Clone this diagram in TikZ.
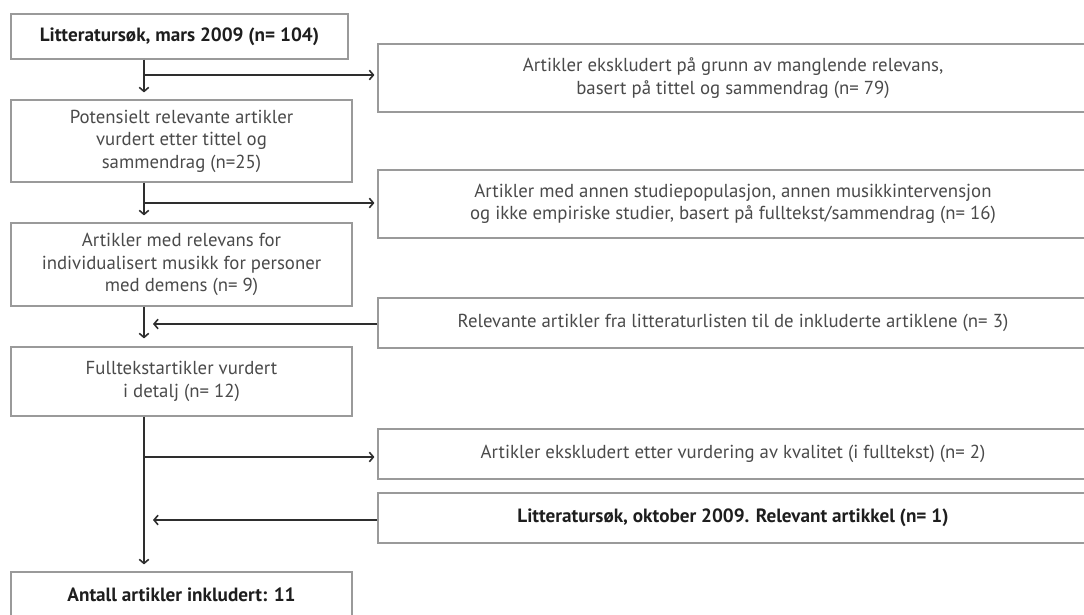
\documentclass[tikz,border=0pt]{standalone}
\usepackage{fontspec}
\setmainfont{PT Sans}
\usetikzlibrary{arrows.meta}
\definecolor{boxline}{HTML}{9A9A9A}
\definecolor{txt}{HTML}{4A4A4A}
\definecolor{txtb}{HTML}{1E1E1E}
\definecolor{arr}{HTML}{2E2E2E}
\tikzset{
  flowbox/.style={draw=boxline, line width=1.2pt, rectangle, align=center, inner sep=0pt,
    text=txt, font=\fontsize{18.8}{22.5}\selectfont},
  boldbox/.style={flowbox, text=txtb, font=\fontsize{19.2}{22.5}\selectfont\bfseries},
  flowarr/.style={draw=arr, line width=1.1pt, -{Straight Barb[length=4pt,width=9.5pt,line width=1.6pt]}},
  flowline/.style={draw=arr, line width=1.1pt}
}
\begin{document}
\begin{tikzpicture}[x=1pt,y=-1pt]
\useasboundingbox (0,0) rectangle (1084,615);
% left column
\node[boldbox, minimum width=337pt, minimum height=45pt] (b1) at (179.5,36.5) {Litteratursøk, mars 2009 (n= 104)};
\node[flowbox, minimum width=341pt, minimum height=82pt] (b2) at (181.5,141) {Potensielt relevante artikler\\vurdert etter tittel og\\sammendrag (n=25)};
\node[flowbox, minimum width=341pt, minimum height=83pt] (b3) at (181.5,264.5) {Artikler med relevans for\\individualisert musikk for personer\\med demens (n= 9)};
\node[flowbox, minimum width=341pt, minimum height=69pt] (b4) at (181.5,381.5) {Fulltekstartikler vurdert\\i detalj (n= 12)};
\node[boldbox, minimum width=341pt, minimum height=46pt] (b5) at (181.5,595) {Antall artikler inkludert: 11};
% right column
\node[flowbox, minimum width=710pt, minimum height=68pt] (r1) at (733,78) {Artikler ekskludert på grunn av manglende relevans,\\basert på tittel og sammendrag (n= 79)};
\node[flowbox, minimum width=710pt, minimum height=68pt] (r2) at (733,204) {Artikler med annen studiepopulasjon, annen musikkintervensjon\\og ikke empiriske studier, basert på fulltekst/sammendrag (n= 16)};
\node[flowbox, minimum width=710pt, minimum height=50pt] (r3) at (733,323) {Relevante artikler fra litteraturlisten til de inkluderte artiklene (n= 3)};
\node[flowbox, minimum width=710pt, minimum height=50pt] (r4) at (733,454) {Artikler ekskludert etter vurdering av kvalitet (i fulltekst) (n= 2)};
\node[boldbox, minimum width=710pt, minimum height=50pt] (r5) at (733,518) {Litteratursøk, oktober 2009. Relevant artikkel (n= 1)};
% trunk coordinate
\coordinate (t) at (144,0);
\coordinate (j1) at (144,75);
\coordinate (j2) at (144,203);
\coordinate (j3) at (153,324);
\coordinate (j4) at (144,457);
\coordinate (j5) at (153,520);
% vertical arrows
\draw[flowarr, shorten >=7pt] (b1.south -| t) -- (b2.north -| t);
\draw[flowarr, shorten >=7pt] (b2.south -| t) -- (b3.north -| t);
\draw[flowarr, shorten >=8pt] (b3.south -| t) -- (b4.north -| t);
\draw[flowarr, shorten >=7pt] (b4.south -| t) -- (b5.north -| t);
% side arrows
\draw[flowarr, shorten >=3pt] (j1) -- (j1 -| r1.west);
\draw[flowarr, shorten >=3pt] (j2) -- (j2 -| r2.west);
\draw[flowarr] (j3 -| r3.west) -- (j3);
\draw[flowarr, shorten >=3pt] (j4) -- (j4 -| r4.west);
\draw[flowarr] (j5 -| r5.west) -- (j5);
\end{tikzpicture}
\end{document}
